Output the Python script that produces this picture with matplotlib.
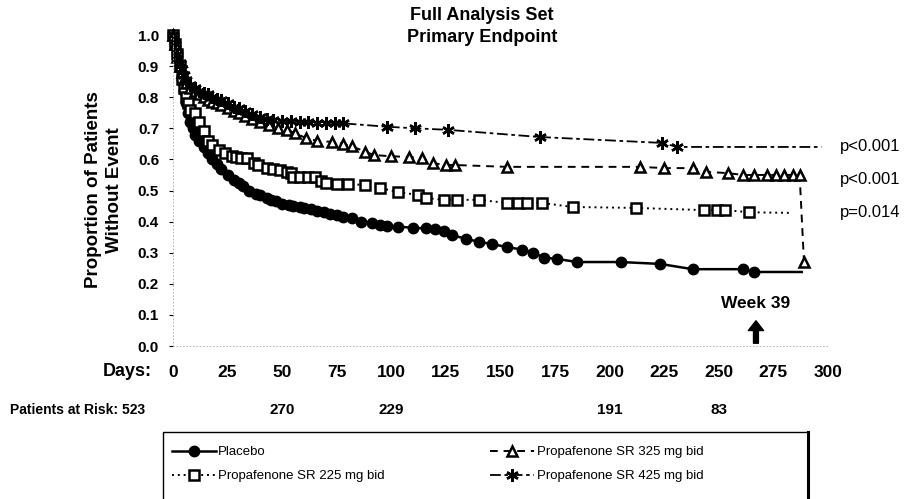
import matplotlib
matplotlib.use("Agg")
import matplotlib.pyplot as plt
from matplotlib.patches import Rectangle
from matplotlib.lines import Line2D

plt.rcParams['font.family'] = ['Liberation Sans', 'DejaVu Sans']

# Kaplan-Meier style curves (day, proportion without event)
placebo_days = [0, 1, 2, 3, 4, 5, 6, 7, 8, 9, 10, 12, 14, 16, 18, 20, 22, 25, 28, 30,
                32, 35, 38, 40, 43, 45, 47, 50, 53, 55, 58, 60, 63, 66, 69, 72, 75, 78,
                82, 86, 91, 95, 98, 103, 110, 116, 120, 124, 128, 134, 140, 146, 153,
                160, 165, 170, 176, 185, 205, 223, 238, 261, 266, 288]
placebo_vals = [1.0, 0.97, 0.94, 0.90, 0.86, 0.82, 0.78, 0.75, 0.72, 0.70, 0.68, 0.66,
                0.64, 0.62, 0.60, 0.585, 0.57, 0.55, 0.535, 0.525, 0.515, 0.50, 0.49,
                0.485, 0.475, 0.47, 0.465, 0.458, 0.452, 0.45, 0.448, 0.445, 0.44,
                0.435, 0.43, 0.425, 0.42, 0.415, 0.41, 0.40, 0.395, 0.39, 0.386,
                0.384, 0.38, 0.378, 0.376, 0.37, 0.356, 0.345, 0.335, 0.328, 0.318,
                0.31, 0.30, 0.284, 0.28, 0.27, 0.27, 0.264, 0.247, 0.247, 0.238, 0.238]

d225_days = [0, 1, 2, 3, 4, 5, 6, 7, 8, 10, 12, 14, 16, 18, 21, 24, 27, 29, 31, 34, 37,
             39, 43, 46, 49, 52, 54, 55, 58, 62, 65, 68, 70, 75, 80, 88, 95, 103, 112,
             116, 124, 130, 140, 153, 158, 162, 169, 183, 212, 243, 249, 253, 264, 283]
d225_vals = [1.0, 0.97, 0.94, 0.90, 0.86, 0.83, 0.80, 0.78, 0.76, 0.75, 0.72, 0.69,
             0.66, 0.645, 0.63, 0.62, 0.612, 0.608, 0.605, 0.605, 0.59, 0.582, 0.572,
             0.568, 0.566, 0.56, 0.556, 0.545, 0.545, 0.545, 0.543, 0.532, 0.524,
             0.522, 0.52, 0.518, 0.508, 0.495, 0.486, 0.476, 0.47, 0.47, 0.47, 0.46,
             0.46, 0.46, 0.46, 0.447, 0.444, 0.437, 0.437, 0.437, 0.43, 0.428]

d325_days = [0, 1, 2, 3, 4, 5, 6, 8, 10, 12, 14, 16, 18, 20, 22, 25, 28, 30, 33, 36,
             40, 44, 48, 52, 56, 61, 66, 73, 78, 82, 88, 92, 100, 108, 114, 119, 125,
             129, 153, 214, 225, 238, 244, 254, 261, 266, 272, 276, 280, 284, 287, 289]
d325_vals = [1.0, 0.97, 0.93, 0.90, 0.88, 0.86, 0.845, 0.83, 0.82, 0.81, 0.80, 0.79,
             0.785, 0.78, 0.775, 0.765, 0.755, 0.75, 0.74, 0.73, 0.72, 0.71, 0.70,
             0.695, 0.685, 0.668, 0.66, 0.656, 0.65, 0.642, 0.625, 0.614, 0.61, 0.608,
             0.605, 0.588, 0.582, 0.582, 0.576, 0.576, 0.572, 0.572, 0.56, 0.556,
             0.55, 0.55, 0.55, 0.55, 0.55, 0.55, 0.55, 0.27]

d425_days = [0, 1, 2, 3, 4, 5, 6, 8, 10, 12, 14, 16, 18, 20, 22, 25, 28, 30, 33, 36,
             40, 43, 46, 50, 54, 58, 62, 66, 70, 74, 78, 98, 111, 126, 168, 224, 231, 297]
d425_vals = [1.0, 0.97, 0.94, 0.91, 0.89, 0.87, 0.855, 0.84, 0.83, 0.82, 0.815, 0.81,
             0.80, 0.795, 0.79, 0.78, 0.77, 0.765, 0.755, 0.745, 0.735, 0.73, 0.727,
             0.725, 0.722, 0.72, 0.72, 0.718, 0.718, 0.717, 0.716, 0.705, 0.70,
             0.695, 0.672, 0.653, 0.64, 0.64]

p_labels = ["p<0.001", "p<0.001", "p=0.014"]
p_y = [0.64, 0.535, 0.43]

risk_days = [50, 100, 200, 250]
risk_counts = [270, 229, 191, 83]
risk_at_zero = 523

x_ticks = [0, 25, 50, 75, 100, 125, 150, 175, 200, 225, 250, 275, 300]
y_ticks = [0.0, 0.1, 0.2, 0.3, 0.4, 0.5, 0.6, 0.7, 0.8, 0.9, 1.0]

legend_labels = ["Placebo", "Propafenone SR 225 mg bid",
                 "Propafenone SR 325 mg bid", "Propafenone SR 425 mg bid"]

W, H = 908, 499
fig = plt.figure(figsize=(W / 100, H / 100), dpi=100)
ax = fig.add_axes([173 / W, 1 - 346 / H, 655 / W, 311 / H])

placebo, = ax.plot(placebo_days, placebo_vals, color='black', lw=1.8, marker='o',
                   ms=7.5, markevery=list(range(len(placebo_days) - 1)), clip_on=False)
s225, = ax.plot(d225_days, d225_vals, color='black', lw=1.4, ls=(0, (1, 2)),
                marker='s', ms=7, mfc='white', mew=1.8,
                markevery=list(range(len(d225_days) - 1)), clip_on=False)
s325, = ax.plot(d325_days, d325_vals, color='black', lw=1.4, ls=(0, (4, 3)),
                marker='^', ms=7.5, mfc='white', mew=1.8, clip_on=False)
s425, = ax.plot(d425_days, d425_vals, color='black', lw=1.3, ls=(0, (6, 2, 2, 2)),
                marker=(6, 2, 0), ms=9, mew=1.8,
                markevery=list(range(len(d425_days) - 1)), clip_on=False)

ax.set_xlim(0, 300)
ax.set_ylim(0, 1.0)
ax.set_xticks(x_ticks)
ax.set_xticklabels([str(t) for t in x_ticks], fontsize=12.5, fontweight='bold')
ax.set_yticks(y_ticks)
ax.set_yticklabels([f"{t:.1f}" for t in y_ticks], fontsize=11, fontweight='bold')
ax.tick_params(axis='x', length=0, pad=14)
ax.tick_params(axis='y', length=3, width=0.8, pad=7)
for side in ['top', 'right']:
    ax.spines[side].set_visible(False)
for side in ['left', 'bottom']:
    ax.spines[side].set_color('#aaaaaa')
    ax.spines[side].set_linewidth(0.6)
    ax.spines[side].set_linestyle((0, (1, 3)))

# p-values at right
for lab, y in zip(p_labels, p_y):
    ax.text(305.5, y, lab, fontsize=12, va='center', ha='left', clip_on=False)

# Week 39 marker
ax.annotate('', xy=(267, 0.09), xytext=(267, 0.0),
            arrowprops=dict(arrowstyle='simple,head_length=0.7,head_width=1.1,tail_width=0.35',
                            fc='black', ec='black'))
ax.text(267, 0.138, "Week 39", fontsize=12.5, fontweight='bold', ha='center', va='center')

# titles and axis captions
fig.text(482 / W, 1 - 15 / H, "Full Analysis Set", fontsize=13, fontweight='bold',
         ha='center', va='center')
fig.text(482 / W, 1 - 37 / H, "Primary Endpoint", fontsize=13, fontweight='bold',
         ha='center', va='center')
fig.text(104 / W, 1 - 190 / H, "Proportion of Patients\nWithout Event", fontsize=13.5,
         fontweight='bold', rotation=90, ha='center', va='center', linespacing=1.25)
fig.text(152 / W, 1 - 372 / H, "Days:", fontsize=13, fontweight='bold',
         ha='right', va='center')

# patients at risk row
fig.text(10 / W, 1 - 410 / H, f"Patients at Risk: {risk_at_zero}", fontsize=10,
         fontweight='bold', ha='left', va='center')
for d, n in zip(risk_days, risk_counts):
    ax.text(d, -(410 - 346) / 311, str(n), transform=ax.get_xaxis_transform(),
            fontsize=11, fontweight='bold', ha='center', va='center', clip_on=False)

# legend box
fig.patches.append(Rectangle((163 / W, -0.05), 645 / W, (499 - 432) / H + 0.05,
                             transform=fig.transFigure, fill=False, ec='black', lw=1.0))
fig.lines.append(Line2D([808 / W, 808 / W], [-0.05, 1 - 432 / H], transform=fig.transFigure,
                        color='black', lw=2.2))
fig.legend([placebo, s225, s325, s425], legend_labels, ncol=2, loc='upper left',
           bbox_to_anchor=(172 / W, 1 - 446 / H), frameon=False, borderpad=0,
           borderaxespad=0, prop={'size': 9.5}, labelspacing=0.9,
           handlelength=3.3, handletextpad=0.2, columnspacing=8.0)

fig.savefig("out.png", dpi=100)
